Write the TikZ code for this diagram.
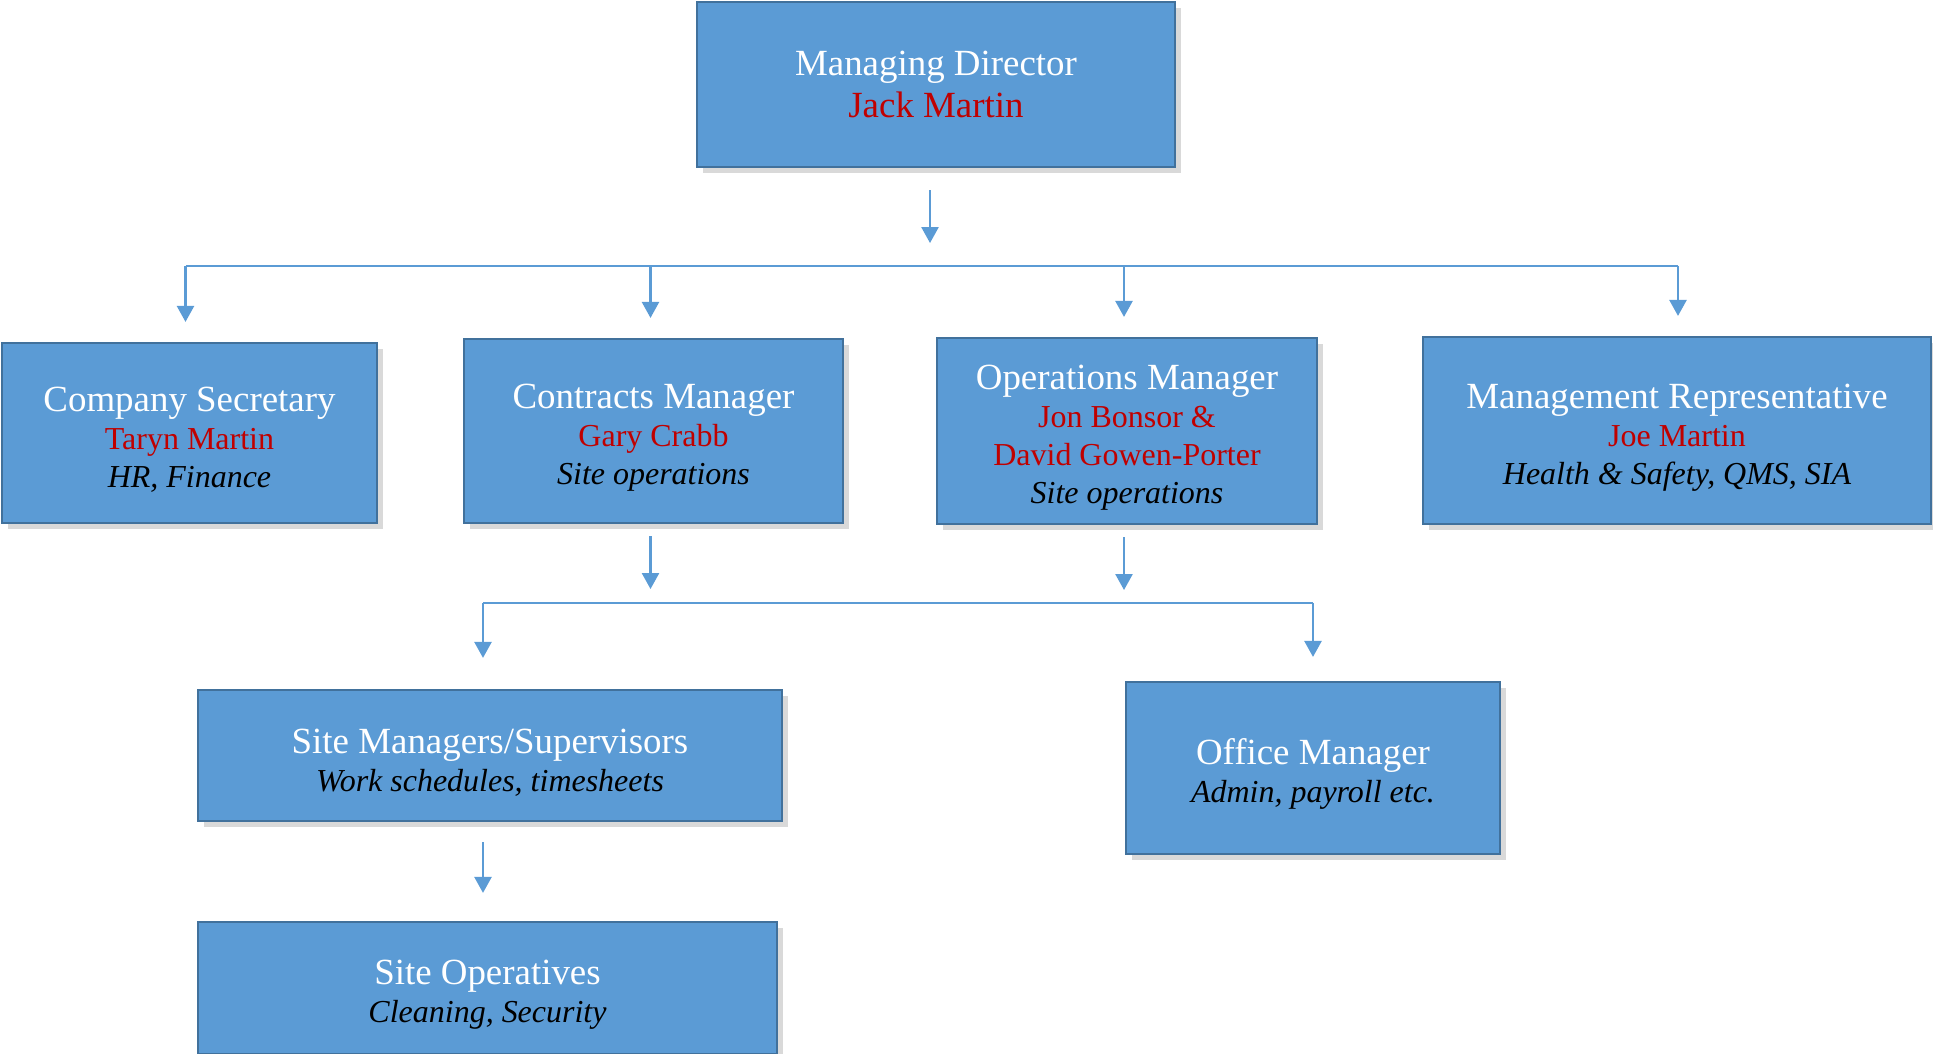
\documentclass[tikz,border=0pt]{standalone}
\usepackage{fontspec}
\setmainfont{Liberation Serif}
\usepackage{xcolor}
\usepackage{tikz}
\usetikzlibrary{arrows.meta, positioning, calc, shadows}
\definecolor{orgblue}{RGB}{91,155,213}
\definecolor{orgedge}{RGB}{65,113,156}
\definecolor{orgred}{RGB}{192,0,0}
\tikzset{
  post/.style={draw=orgedge, line width=0.6pt, fill=orgblue, text=white,
    align=center, inner sep=0pt, font=\fontsize{10.5}{10.8}\selectfont,
    drop shadow={shadow xshift=0.06cm, shadow yshift=-0.06cm, opacity=0.3}},
  feed/.style={draw=orgblue, line width=0.7pt, -{Triangle[width=0.17cm,length=0.16cm]}},
  bus/.style={draw=orgblue, line width=0.45pt}
}
\newcommand{\lift}{\rule{0pt}{11pt}}
\newcommand{\who}[1]{{\fontsize{9.1}{10.8}\selectfont\color{orgred}#1}}
\newcommand{\duty}[1]{{\fontsize{9.1}{10.8}\selectfont\color{black}\itshape #1}}

\begin{document}
\begin{tikzpicture}
\useasboundingbox (0,0) rectangle (19.33,10.54);
\clip (0,0) rectangle (19.33,10.54);

% Director
\node[post, minimum width=4.78cm, minimum height=1.65cm] (md) at (9.36,9.695)
  {Managing Director\\[1.1pt]\textcolor{orgred}{Jack Martin}};

% Second row
\node[post, minimum width=3.75cm, minimum height=1.80cm] (sec) at (1.895,6.21)
  {\lift Company Secretary\\\who{Taryn Martin}\\\duty{HR, Finance}};
\node[post, minimum width=3.79cm, minimum height=1.84cm] (con) at (6.535,6.23)
  {\lift Contracts Manager\\\who{Gary Crabb}\\\duty{Site operations}};
\node[post, minimum width=3.80cm, minimum height=1.86cm] (ops) at (11.27,6.23)
  {\lift Operations Manager\\\who{Jon Bonsor \&}\\\who{David Gowen-Porter}\\\duty{Site operations}};
\node[post, minimum width=5.08cm, minimum height=1.87cm] (rep) at (16.77,6.235)
  {\lift Management Representative\\\who{Joe Martin}\\\duty{Health \& Safety, QMS, SIA}};

% Third row
\node[post, minimum width=5.84cm, minimum height=1.31cm] (sup) at (4.90,2.985)
  {\lift Site Managers/Supervisors\\\duty{Work schedules, timesheets}};
\node[post, minimum width=3.74cm, minimum height=1.72cm] (off) at (13.13,2.86)
  {\lift Office Manager\\\duty{Admin, payroll etc.}};

% Bottom
\node[post, minimum width=5.79cm, minimum height=1.32cm] (opv) at (4.875,0.66)
  {\lift Site Operatives\\\duty{Cleaning, Security}};

% Director to second row
\draw[feed] ([xshift=-0.06cm,yshift=-0.22cm]md.south) -- ++(0,-0.53);
\coordinate (row1) at (0,7.88);
\draw[bus] ([xshift=-0.04cm]sec.north |- row1) -- ([xshift=0.01cm]rep.north |- row1);
\foreach \n/\dx in {sec/-0.04,con/-0.03,ops/-0.03,rep/0.01}
  \draw[feed] ([xshift=\dx cm]\n.north |- row1) -- ([xshift=\dx cm,yshift=0.2cm]\n.north);

% Managers to third row
\foreach \n in {con,ops}
  \draw[feed] ([xshift=-0.03cm,yshift=-0.12cm]\n.south) -- ++(0,-0.53);
\coordinate (row2) at (0,4.51);
\coordinate (supin) at ([xshift=-0.07cm]sup.north |- row2);
\draw[bus] (supin) -- (off.north |- row2);
\draw[feed] (supin) -- ([xshift=-0.07cm,yshift=0.31cm]sup.north);
\draw[feed] (off.north |- row2) -- ([yshift=0.24cm]off.north);

% Supervisors to operatives
\coordinate (supout) at ([xshift=-0.07cm,yshift=-0.2cm]sup.south);
\coordinate (opvin) at ([yshift=0.28cm]opv.north);
\draw[feed] (supout) -- (supout |- opvin);
\end{tikzpicture}
\end{document}
